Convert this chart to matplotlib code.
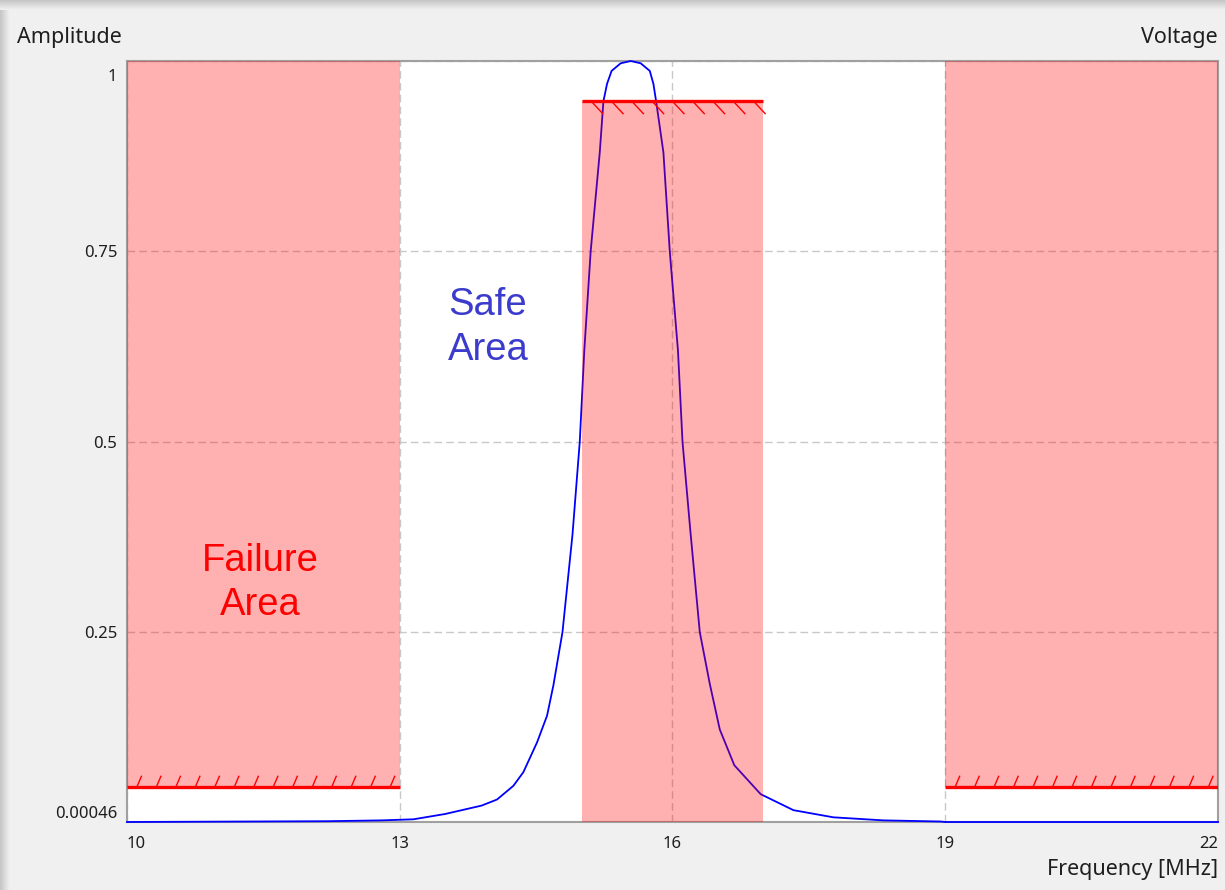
"""Band-pass response with failure / safe limit masks."""

import numpy as np
import matplotlib
matplotlib.use("Agg")
import matplotlib.pyplot as plt
from matplotlib import patheffects
from matplotlib.transforms import ScaledTranslation

# response curve (frequency in MHz, relative amplitude)
freq = [10.0, 12.2, 12.8, 13.15, 13.5, 13.9, 14.07, 14.25, 14.36, 14.51, 14.62,
        14.69, 14.79, 14.90, 14.98, 15.03, 15.10, 15.20, 15.24, 15.28, 15.33,
        15.43, 15.54, 15.65, 15.75, 15.79, 15.82, 15.90, 15.97, 16.06, 16.11,
        16.20, 16.30, 16.41, 16.52, 16.68, 16.97, 17.33, 17.77, 18.32, 18.95,
        19.0, 22.0]
amp = [0.00046, 0.0015, 0.0026, 0.004, 0.011, 0.022, 0.030, 0.048, 0.066, 0.105,
       0.14, 0.18, 0.25, 0.378, 0.5, 0.62, 0.75, 0.88, 0.947, 0.97, 0.987,
       0.997, 1.0, 0.997, 0.987, 0.97, 0.947, 0.88, 0.75, 0.62, 0.5,
       0.378, 0.25, 0.182, 0.122, 0.075, 0.037, 0.016, 0.0066, 0.0026, 0.0011,
       0.00046, 0.00046]

# limit masks
low_zones = [(10.0, 13.0), (19.0, 22.0)]   # amplitude must stay below low_limit
low_limit = 0.046
pass_zone = (15.0, 17.0)                    # amplitude must reach pass_limit
pass_limit = 0.947

y_min, y_max = 0.00046, 1.0
x_ticks = [10, 13, 16, 19, 22]
y_ticks = [0.00046, 0.25, 0.5, 0.75, 1.0]
y_tick_labels = ["0.00046", "0.25", "0.5", "0.75", "1"]

ui_font = "Noto Sans"
txt_col = "#1e1e1e"
mask_col = "red"
mask_alpha = 0.31

fig = plt.figure(figsize=(12.25, 8.9), dpi=100, facecolor="#f0f0f0")

# window drop shadow along the top and left edges
shade = np.linspace(0.78, 0.94, 10)
fig.figimage(np.tile(shade[:, None, None], (1, 1225, 3)), xo=0, yo=880, zorder=0)
fig.figimage(np.tile(shade[None, :, None], (880, 1, 3)), xo=0, yo=0, zorder=0)

ax = fig.add_axes([127 / 1225, 1 - 822 / 890, (1218 - 127) / 1225, (822 - 61) / 890])
ax.set_facecolor("white")

ax.plot(freq, amp, color="#0000ff", lw=1.3, zorder=3, clip_on=False)

# failure masks: shaded above the lower limit
for x0, x1 in low_zones:
    ax.fill_between([x0, x1], low_limit, y_max, color=mask_col, alpha=mask_alpha,
                    lw=0, zorder=4)
    ax.plot([x0, x1], [low_limit, low_limit], color=mask_col, lw=2.4, zorder=5,
            solid_capstyle="butt",
            path_effects=[patheffects.withTickedStroke(angle=67, spacing=14.0,
                                                       length=0.65, linewidth=1.0)])

# pass mask: shaded below the upper limit
ax.fill_between(list(pass_zone), y_min, pass_limit, color=mask_col,
                alpha=mask_alpha, lw=0, zorder=4)
ax.plot(list(pass_zone), [pass_limit, pass_limit], color=mask_col, lw=2.4, zorder=5,
        solid_capstyle="butt",
        path_effects=[patheffects.withTickedStroke(angle=-47, spacing=14.0,
                                                   length=0.9, linewidth=1.0)])

ax.set_xlim(10, 22)
ax.set_ylim(y_min, y_max)
ax.set_xticks(x_ticks)
ax.set_xticklabels([str(t) for t in x_ticks])
ax.set_yticks(y_ticks)
ax.set_yticklabels(y_tick_labels)
ax.tick_params(length=0, labelsize=12, labelcolor=txt_col)
ax.tick_params(axis="x", pad=10)
ax.tick_params(axis="y", pad=7)
for lab in ax.get_xticklabels() + ax.get_yticklabels():
    lab.set_fontfamily(ui_font)
xl = ax.get_xticklabels()
xl[0].set_ha("left")
xl[-1].set_ha("right")
yl = ax.get_yticklabels()
yl[0].set_va("bottom")
yl[-1].set_va("top")
yl[-1].set_transform(yl[-1].get_transform()
                     + ScaledTranslation(0, -0.08, fig.dpi_scale_trans))

ax.set_axisbelow(True)
ax.grid(True, color="#c8c8c8", lw=1.0, linestyle=(0, (5.5, 3)))
for sp in ax.spines.values():
    sp.set_color("#a0a0a0")
    sp.set_linewidth(1.5)

fig.text(17 / 1225, 1 - 37 / 890, "Amplitude", ha="left", va="center",
         fontsize=15.5, family=ui_font, color=txt_col)
fig.text(1218 / 1225, 1 - 37 / 890, "Voltage", ha="right", va="center",
         fontsize=15.5, family=ui_font, color=txt_col)
fig.text(1218 / 1225, 1 - 870 / 890, "Frequency [MHz]", ha="right", va="center",
         fontsize=15.5, family=ui_font, color=txt_col)

ax.text(13.97, 0.65, "Safe\nArea", ha="center", va="center", fontsize=27.5,
        family="Liberation Sans", color="#3c3ccc", linespacing=1.3, zorder=6)
ax.text(11.47, 0.314, "Failure\nArea", ha="center", va="center", fontsize=27.5,
        family="Liberation Sans", color="red", linespacing=1.3, zorder=6)

fig.savefig("out.png", dpi=100, facecolor=fig.get_facecolor())
plt.close(fig)
